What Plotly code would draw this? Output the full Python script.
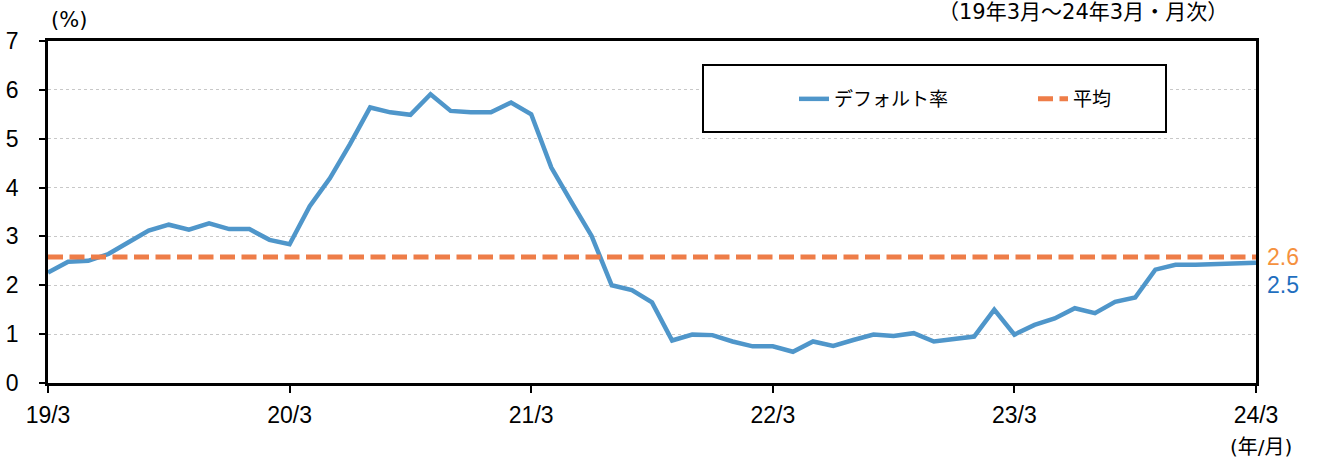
import plotly.graph_objects as go

# ---- data ----
months = [f"{(19 + (2 + i) // 12)}/{(2 + i) % 12 + 1}" for i in range(61)]  # 19/3 ... 24/3
default_rate = [
    2.26, 2.48, 2.50, 2.64, 2.88, 3.12, 3.24, 3.14, 3.27, 3.15, 3.15, 2.93, 2.84,  # 19/3-20/3
    3.62, 4.19, 4.89, 5.64, 5.54, 5.49, 5.91, 5.57, 5.54, 5.54, 5.74, 5.50,        # -21/3
    4.41, 3.70, 3.01, 2.00, 1.90, 1.65, 0.87, 0.99, 0.98, 0.85, 0.75, 0.75,        # -22/3
    0.64, 0.85, 0.76, 0.88, 0.99, 0.96, 1.02, 0.85, 0.89, 0.95, 1.50, 0.99,        # -23/3
    1.19, 1.32, 1.53, 1.43, 1.66, 1.75, 2.32, 2.42, 2.42, 2.44, 2.44, 2.46,        # -24/3
]
average = 2.58
tick_labels = ["19/3", "20/3", "21/3", "22/3", "23/3", "24/3"]
series_names = ["デフォルト率", "平均"]

BLUE = "#4F96CA"
ORANGE = "#EE7D48"
JP = "Noto Sans CJK JP"
MIX = "DejaVu Sans, Noto Sans CJK JP"
NUM = "Liberation Sans, Arial"

fig = go.Figure()
fig.add_trace(go.Scatter(
    x=months, y=default_rate, mode="lines", name=series_names[0],
    line=dict(color=BLUE, width=4.5), hoverinfo="skip",
))
fig.add_trace(go.Scatter(
    x=months, y=[average] * len(months), mode="lines", name=series_names[1],
    line=dict(color=ORANGE, width=5, dash="15px,6.5px"), hoverinfo="skip",
))

fig.update_layout(
    width=1317, height=460,
    margin=dict(l=48, r=61, t=41, b=77),
    paper_bgcolor="white", plot_bgcolor="white",
    font=dict(family=NUM, size=23, color="black"),
    showlegend=True,
    legend=dict(
        orientation="h", x=(794 - 48) / 1208, xanchor="left",
        y=(383 - 99) / 342, yanchor="middle",
        font=dict(family=JP, size=19, color="black"),
        bgcolor="rgba(0,0,0,0)", borderwidth=0, entrywidth=194,
    ),
)

fig.update_xaxes(
    type="category", categoryorder="array", categoryarray=months,
    range=[0, len(months) - 1], automargin=False,
    tickmode="array", tickvals=tick_labels, ticktext=tick_labels,
    showline=True, linecolor="black", linewidth=2.5, mirror=True,
    ticks="outside", ticklen=7, tickwidth=2, tickcolor="black",
    showgrid=False, zeroline=False, ticklabelstandoff=3,
    tickfont=dict(family=NUM, size=23),
)
fig.update_yaxes(
    range=[0, 7], dtick=1, tick0=0, automargin=False,
    showline=True, linecolor="black", linewidth=2.5, mirror=True,
    ticks="outside", ticklen=6, tickwidth=2, tickcolor="black",
    showgrid=True, gridcolor="#C8C8C8", gridwidth=1, griddash="dot",
    zeroline=False, ticklabelstandoff=16,
    tickfont=dict(family=NUM, size=23),
)

# legend box
fig.add_shape(type="rect", xref="paper", yref="paper",
              x0=(703 - 48) / 1208, x1=(1166 - 48) / 1208,
              y0=(383 - 132) / 342, y1=(383 - 65) / 342,
              line=dict(color="black", width=2), fillcolor="white", layer="above")

annotations = [
    dict(text="(%)", xref="paper", yref="paper", x=0, y=1, xanchor="left", yanchor="middle",
         xshift=1, yshift=21, showarrow=False, font=dict(family=MIX, size=21)),
    dict(text="（19年3月～24年3月・月次）", xref="paper", yref="paper",
         x=(1230 - 48) / 1208, y=1, xanchor="right", yanchor="middle", yshift=29,
         showarrow=False, font=dict(family=MIX, size=21)),
    dict(text="(年/月)", xref="paper", yref="paper", x=(1261 - 48) / 1208, y=0,
         xanchor="center", yanchor="middle", yshift=-64, showarrow=False,
         font=dict(family=MIX, size=20)),
    dict(text=f"{average:.1f}", x=months[-1], y=average, xref="x", yref="y",
         xanchor="left", yanchor="middle", xshift=9, showarrow=False,
         font=dict(family=NUM, size=23, color="#F5913E")),
    dict(text=f"{default_rate[-1]:.1f}", x=months[-1], y=default_rate[-1], xref="x", yref="y",
         xanchor="left", yanchor="middle", xshift=9, yshift=-22, showarrow=False,
         font=dict(family=NUM, size=23, color="#1F6FBF")),
]
fig.update_layout(annotations=annotations)

fig.write_html("out.html", config={"displayModeBar": False},
               post_script="document.body.style.margin='0';")
